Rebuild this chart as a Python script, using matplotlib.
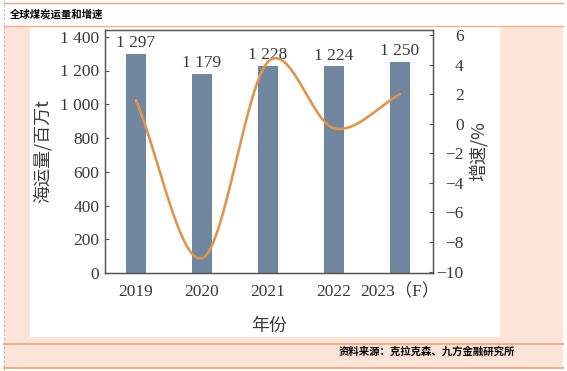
import numpy as np
import matplotlib
matplotlib.use("Agg")
import matplotlib.pyplot as plt
from matplotlib.patches import Rectangle
from matplotlib.lines import Line2D

plt.rcParams['font.family'] = ['Liberation Serif', 'Noto Sans CJK SC']
plt.rcParams['axes.unicode_minus'] = True

# data
years = ['2019', '2020', '2021', '2022', '2023（F）']
volume = [1297, 1179, 1228, 1224, 1250]          # 百万t
growth = [1.6, -9.1, 4.2, -0.3, 2.0]              # %
vol_labels = ['1 297', '1 179', '1 228', '1 224', '1 250']
left_ticks = [0, 200, 400, 600, 800, 1000, 1200, 1400]
right_ticks = [-10, -8, -6, -4, -2, 0, 2, 4, 6]

bar_color = '#70869f'
line_color = '#e0954f'
text_color = '#3a3a3a'
peach = '#fce4d8'
orange = '#eeb08a'


def smooth_line(x, y, steps=60):
    # catmull-rom style curve through the points (like excel "smoothed line")
    x = np.asarray(x, float); y = np.asarray(y, float)
    n = len(x)
    m = np.zeros(n)
    m[1:-1] = (y[2:] - y[:-2]) / (x[2:] - x[:-2])
    m[0] = (y[1] - y[0]) / (x[1] - x[0])
    m[-1] = (y[-1] - y[-2]) / (x[-1] - x[-2])
    xs_all, ys_all = [], []
    for i in range(n - 1):
        h = x[i + 1] - x[i]
        t = np.linspace(0, 1, steps)
        h00 = 2 * t**3 - 3 * t**2 + 1
        h10 = t**3 - 2 * t**2 + t
        h01 = -2 * t**3 + 3 * t**2
        h11 = t**3 - t**2
        xs_all.append(x[i] + t * h)
        ys_all.append(h00 * y[i] + h10 * h * m[i] + h01 * y[i + 1] + h11 * h * m[i + 1])
    return np.concatenate(xs_all), np.concatenate(ys_all)


W, H = 567, 371
fig = plt.figure(figsize=(W / 100, H / 100), dpi=100)


def px_rect(x0, y0, x1, y1, color):
    fig.patches.append(Rectangle((x0 / W, 1 - y1 / H), (x1 - x0) / W, (y1 - y0) / H,
                                 transform=fig.transFigure, facecolor=color,
                                 edgecolor='none', zorder=-10))


def px_hline(y, x0, x1, color, lw=1.2):
    fig.lines.append(Line2D([x0 / W, x1 / W], [1 - y / H, 1 - y / H],
                            transform=fig.transFigure, color=color, lw=lw,
                            zorder=-5))


# frame
px_rect(4, 26, 563, 368, peach)
px_rect(30, 26, 500, 337, 'white')
px_hline(3, 4, 563, '#e9a878', 1.0)
px_hline(26, 4, 563, orange, 1.0)
px_hline(344, 4, 563, '#efb08a', 1.5)
px_hline(368, 4, 563, '#efb08a', 1.5)
fig.lines.append(Line2D([4 / W, 4 / W], [0, 1], transform=fig.transFigure,
                        color='#bbbbbb', lw=0.8, ls=(0, (2, 2)), zorder=-5))

fig.text(10 / W, 1 - 14 / H, '全球煤炭运量和增速', fontsize=7.5, fontweight='bold',
         family=['Noto Sans CJK SC'], va='center', ha='left', color='black')
fig.text(515 / W, 1 - 352 / H, '资料来源：克拉克森、九方金融研究所', fontsize=7.5,
         fontweight='bold', family=['Noto Sans CJK SC'], va='center', ha='right',
         color='black')

# axes
ax = fig.add_axes([105 / W, 1 - 273 / H, 328 / W, 243 / H])
ax.set_facecolor('none')
x = np.arange(len(years))
ax.bar(x, volume, width=0.3, color=bar_color, zorder=2)
for xi, v, lab in zip(x, volume, vol_labels):
    ax.annotate(lab, (xi, v), xytext=(0, 2), textcoords='offset points',
                ha='center', va='bottom', fontsize=12.5, color=text_color)

ax.set_xlim(-0.47, 4.5)
ax.set_ylim(0, 1440)
ax.set_yticks(left_ticks)
ax.set_yticklabels([f'{v:,}'.replace(',', ' ') for v in left_ticks])
ax.set_xticks(x)
ax.set_xticklabels(years)
ax.tick_params(axis='y', direction='in', length=3, colors='#555555',
               labelcolor=text_color, labelsize=12.5, pad=4)
ax.tick_params(axis='x', length=0, labelcolor=text_color, labelsize=12.5, pad=8)
for s in ax.spines.values():
    s.set_color('#555555')
    s.set_linewidth(1.0)
ax.set_xlabel('年份', fontsize=13, color=text_color, labelpad=12,
              family=['Noto Sans CJK SC'])
ax.set_ylabel('海运量/百万t', fontsize=13, color=text_color, labelpad=6,
              family=['Noto Sans CJK SC'])

ax2 = ax.twinx()
lx, ly = smooth_line(x, growth)
ax2.plot(lx, ly, color=line_color, lw=1.9, zorder=3, solid_capstyle='round')
ax2.set_ylim(-10.1, 6.35)
ax2.set_yticks(right_ticks)
ax2.set_yticklabels([str(v).replace('-', '\u2212') for v in right_ticks], ha='right')
ax2.tick_params(axis='y', direction='in', length=3, colors='#555555',
                labelcolor=text_color, labelsize=12.5, pad=22)
ax2.set_ylabel('增速/%', fontsize=13, color=text_color, labelpad=4,
               family=['Noto Sans CJK SC'])
for s in ax2.spines.values():
    s.set_color('#555555')

fig.savefig('out.png', dpi=100)
